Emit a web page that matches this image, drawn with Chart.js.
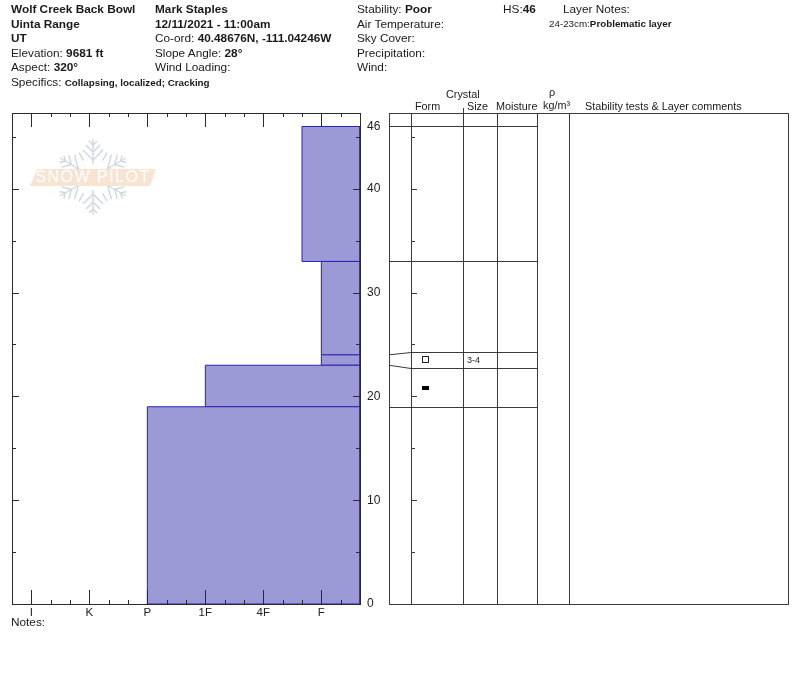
<!DOCTYPE html>
<html>
<head>
<meta charset="utf-8">
<style>
  html, body { margin: 0; padding: 0; background: #fff; }
  #wrap { position: relative; width: 800px; height: 676px; overflow: hidden; }
  canvas { position: absolute; left: 0; top: 0; }
  .t { position: absolute; font: 11.8px "Liberation Sans", Arial, sans-serif; color: #1a1a1a; white-space: nowrap; line-height: 14px; }
  .s { font-size: 9.8px; }
  .h { font-size: 10.8px; }
</style>
</head>
<body>
<div id="wrap">
  <canvas id="chart-profile" width="800" height="676"></canvas>

  <div class="t" style="left:11px;top:2px"><b>Wolf Creek Back Bowl</b></div>
  <div class="t" style="left:11px;top:17px"><b>Uinta Range</b></div>
  <div class="t" style="left:11px;top:31px"><b>UT</b></div>
  <div class="t" style="left:11px;top:46px">Elevation: <b>9681 ft</b></div>
  <div class="t" style="left:11px;top:60px">Aspect: <b>320°</b></div>
  <div class="t" style="left:11px;top:75px">Specifics: <b class="s">Collapsing, localized; Cracking</b></div>

  <div class="t" style="left:155px;top:2px"><b>Mark Staples</b></div>
  <div class="t" style="left:155px;top:17px"><b>12/11/2021 - 11:00am</b></div>
  <div class="t" style="left:155px;top:31px">Co-ord: <b>40.48676N, -111.04246W</b></div>
  <div class="t" style="left:155px;top:46px">Slope Angle: <b>28°</b></div>
  <div class="t" style="left:155px;top:60px">Wind Loading:</div>

  <div class="t" style="left:357px;top:2px">Stability: <b>Poor</b></div>
  <div class="t" style="left:357px;top:17px">Air Temperature:</div>
  <div class="t" style="left:357px;top:31px">Sky Cover:</div>
  <div class="t" style="left:357px;top:46px">Precipitation:</div>
  <div class="t" style="left:357px;top:60px">Wind:</div>

  <div class="t" style="left:503px;top:2px">HS:<b>46</b></div>
  <div class="t" style="left:563px;top:2px">Layer Notes:</div>
  <div class="t s" style="left:549px;top:17px">24-23cm:<b>Problematic layer</b></div>

  <div class="t h" style="left:446px;top:87px">Crystal</div>
  <div class="t h" style="left:415px;top:99px">Form</div>
  <div class="t h" style="left:467px;top:99px">Size</div>
  <div class="t h" style="left:496px;top:99px">Moisture</div>
  <div class="t h" style="left:549px;top:85px">ρ</div>
  <div class="t h" style="left:543px;top:98px">kg/m³</div>
  <div class="t h" style="left:585px;top:99px">Stability tests &amp; Layer comments</div>

  <div class="t" style="left:11px;top:615px">Notes:</div>
</div>

<script src="https://cdn.jsdelivr.net/npm/chart.js@4"></script>
<script>
// layers bottom to top, depth in cm
const layerBottoms = [0, 19, 23, 24, 33];
const layerTops = [19, 23, 24, 33, 46];
const layerHardness = [7, 10, 16, 16, 15];

const hardnessTicks = { 1: 'I', 4: 'K', 7: 'P', 10: '1F', 13: '4F', 16: 'F' };
const depthLabels = [0, 10, 20, 30, 40, 46];

// table row edges are spread out where the layers get too thin to write in
const tableEdges = [46, 33, 24.3, 22.7, 19];
const profileEdges = [46, 33, 24, 23, 19];

const gridForms = [
  { depth: 23.5, type: 'open' },
  { depth: 20.8, type: 'solid' },
];
const crystalSizes = [{ depth: 23.5, text: '3-4' }];

const HARD_MAX = 18;
const DEPTH_MAX = 47.3;
const TABLE_LEFT = 389, TABLE_RIGHT = 788.5;
const COL_FORM = 411, COL_SIZE = 463, COL_MOIST = 497, COL_RHO = 537, COL_COMMENT = 569;

const LINE = '#3a3a3a';

function line(ctx, x1, y1, x2, y2) {
  ctx.beginPath();
  ctx.moveTo(x1, y1);
  ctx.lineTo(x2, y2);
  ctx.stroke();
}

const crisp = v => Math.round(v) + 0.5;

// ticks need two lengths, grid.tickLength only gives one
const profileFrame = {
  id: 'profileFrame',
  afterDatasetsDraw(chart) {
    const { ctx, chartArea: a, scales: { x, y } } = chart;
    ctx.save();
    ctx.strokeStyle = '#2b2b2b';
    ctx.lineWidth = 1;
    ctx.strokeRect(crisp(a.left), crisp(a.top), Math.round(a.right - a.left), Math.round(a.bottom - a.top));
    for (let i = 1; i < HARD_MAX; i++) {
      const px = crisp(x.getPixelForValue(i));
      const len = hardnessTicks[i] ? 14 : 4;
      line(ctx, px, a.top, px, a.top + len);
      line(ctx, px, a.bottom, px, a.bottom - len);
    }
    for (let d = 5; d < 46; d += 5) {
      const py = crisp(y.getPixelForValue(d));
      const len = d % 10 === 0 ? 7 : 4;
      line(ctx, a.left, py, a.left + len, py);
      line(ctx, a.right, py, a.right - len, py);
    }
    ctx.restore();
  },
};

const layerTable = {
  id: 'layerTable',
  afterDraw(chart) {
    const { ctx, chartArea: a, scales: { y } } = chart;
    ctx.save();
    ctx.strokeStyle = LINE;
    ctx.lineWidth = 1;
    ctx.strokeRect(TABLE_LEFT + 0.5, crisp(a.top), TABLE_RIGHT - TABLE_LEFT - 0.5, Math.round(a.bottom - a.top));
    [COL_FORM, COL_SIZE, COL_MOIST, COL_RHO, COL_COMMENT].forEach(cx => {
      line(ctx, cx + 0.5, a.top, cx + 0.5, a.bottom);
    });
    line(ctx, COL_SIZE + 0.5, a.top - 5, COL_SIZE + 0.5, a.top);
    tableEdges.forEach((d, i) => {
      const py = crisp(y.getPixelForValue(d));
      line(ctx, COL_FORM, py, COL_RHO, py);
      if (d === profileEdges[i]) {
        line(ctx, TABLE_LEFT, py, COL_FORM, py);
      } else {
        line(ctx, TABLE_LEFT, y.getPixelForValue(profileEdges[i]), COL_FORM, py);
      }
    });
    for (let d = 5; d < 46; d += 5) {
      const py = crisp(y.getPixelForValue(d));
      line(ctx, COL_FORM, py, COL_FORM + (d % 10 === 0 ? 6 : 4), py);
    }
    gridForms.forEach(f => {
      const py = y.getPixelForValue(f.depth);
      if (f.type === 'open') {
        ctx.strokeStyle = '#222';
        ctx.strokeRect(422.5, Math.round(py) - 3.5, 6, 6);
      } else {
        ctx.fillStyle = '#000';
        ctx.fillRect(422, Math.round(py) - 2, 7, 4);
      }
    });
    ctx.fillStyle = '#222';
    ctx.font = '9px "Liberation Sans", Arial, sans-serif';
    ctx.textBaseline = 'middle';
    crystalSizes.forEach(c => {
      ctx.fillText(c.text, COL_SIZE + 4, y.getPixelForValue(c.depth));
    });
    ctx.restore();
  },
};

// snowflake and banner behind the profile
const watermark = {
  id: 'watermark',
  beforeDatasetsDraw(chart) {
    const { ctx } = chart;
    const cx = 93, cy = 177;
    ctx.save();
    ctx.strokeStyle = '#cdd8e1';
    ctx.lineWidth = 1.4;
    for (let k = 0; k < 6; k++) {
      ctx.save();
      ctx.translate(cx, cy);
      ctx.rotate(k * Math.PI / 3);
      line(ctx, 0, -13, 0, -38);
      [-17, -25, -32].forEach((p, n) => {
        const w = 10 - n * 3;
        line(ctx, 0, p, -w, p - w);
        line(ctx, 0, p, w, p - w);
      });
      ctx.rotate(Math.PI / 6);
      line(ctx, 0, -19, 0, -28);
      ctx.restore();
    }
    ctx.fillStyle = '#f7e4d2';
    ctx.beginPath();
    ctx.moveTo(37, 169);
    ctx.lineTo(156, 169);
    ctx.lineTo(150, 186);
    ctx.lineTo(30, 186);
    ctx.closePath();
    ctx.fill();
    ctx.font = '16px "Liberation Sans", Arial, sans-serif';
    ctx.textAlign = 'center';
    ctx.textBaseline = 'middle';
    if ('letterSpacing' in ctx) ctx.letterSpacing = '1.5px';
    ctx.fillStyle = '#ffffff';
    ctx.fillText('SNOW PILOT', cx, 178);
    ctx.restore();
  },
};

new Chart(document.getElementById('chart-profile').getContext('2d'), {
  type: 'scatter',
  data: {
    datasets: layerBottoms.map((bottom, i) => ({
      label: 'layer ' + bottom + '-' + layerTops[i],
      data: [
        { x: layerHardness[i], y: bottom },
        { x: layerHardness[i], y: layerTops[i] },
        { x: HARD_MAX, y: layerTops[i] },
        { x: HARD_MAX, y: bottom },
        { x: layerHardness[i], y: bottom },
      ],
      showLine: true,
      fill: 'shape',
      tension: 0,
      borderColor: '#2a22b4',
      borderWidth: 1,
      backgroundColor: '#9b9ad6',
      pointRadius: 0,
    })),
  },
  options: {
    responsive: false,
    animation: false,
    layout: { padding: { left: 12, right: 410, top: 113, bottom: 52 } },
    plugins: {
      legend: { display: false },
      tooltip: { enabled: false },
    },
    scales: {
      x: {
        type: 'linear',
        min: 0,
        max: HARD_MAX,
        grid: { display: false, drawTicks: false },
        border: { display: false },
        afterBuildTicks: s => { s.ticks = Object.keys(hardnessTicks).map(v => ({ value: Number(v) })); },
        afterFit: s => { s.height = 20; },
        ticks: {
          autoSkip: false,
          maxRotation: 0,
          padding: 2,
          color: '#222',
          font: { family: 'Liberation Sans', size: 11.5 },
          callback: v => hardnessTicks[v],
        },
      },
      y: {
        type: 'linear',
        position: 'right',
        min: 0,
        max: DEPTH_MAX,
        grid: { display: false, drawTicks: false },
        border: { display: false },
        afterBuildTicks: s => { s.ticks = depthLabels.map(v => ({ value: v })); },
        afterFit: s => { s.width = 30; },
        ticks: {
          autoSkip: false,
          padding: 7,
          color: '#222',
          font: { family: 'Liberation Sans', size: 12 },
        },
      },
    },
  },
  plugins: [watermark, profileFrame, layerTable],
});
</script>
</body>
</html>
